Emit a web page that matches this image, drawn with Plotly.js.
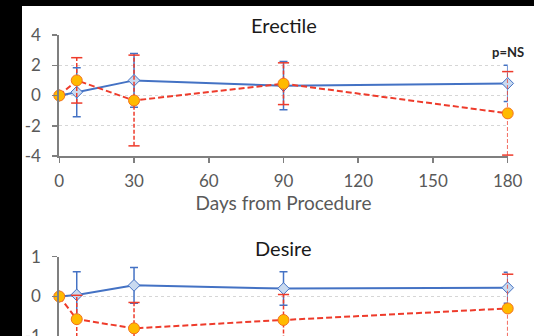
<!DOCTYPE html>
<html>
<head>
<meta charset="utf-8">
<script src="https://cdn.plot.ly/plotly-3.0.1.min.js"></script>
<style>
html,body{margin:0;padding:0;background:#000;overflow:hidden;width:534px;height:336px;}
#chart{position:absolute;left:22px;top:6px;width:512px;height:400px;background:#fff;}
</style>
</head>
<body>
<div id="chart"></div>
<script>
// ---- data ----
const days = [0, 7, 30, 90, 180];
const xTickVals = [0, 30, 60, 90, 120, 150, 180];
const xTickText = ['0', '30', '60', '90', '120', '150', '180'];

const erectileBlue = [0, 0.22, 1.0, 0.65, 0.8];
const erectileBlueErr = [0, 1.62, 1.78, 1.6, 1.2];
const erectileRed = [0, 1.0, -0.33, 0.78, -1.18];
const erectileRedErr = [0, 1.5, 3.0, 1.38, 2.76];

const desireBlue = [0, 0.04, 0.28, 0.2, 0.22];
const desireBlueErr = [0, 0.58, 0.45, 0.42, 0.39];
const desireRed = [0, -0.57, -0.8, -0.59, -0.3];
const desireRedErr = [0, 0.6, 0.65, 0.64, 0.86];

const erectileTickVals = [4, 2, 0, -2, -4];
const erectileTickText = ['4', '2', '0', '-2', '-4'];
const desireTickVals = [1, 0, -1];
const desireTickText = ['1', '0', '-1'];

// ---- styles ----
const BLUE = '#4472C4';
const BLUE_FILL = '#C9DAF0';
const RED = '#EE3B2B';
const ORANGE = '#FFBA00';
const ORANGE_EDGE = '#F4711E';
const FONT = 'Lato, "Open Sans", sans-serif';
const GREY = '#595959';

function redErrTrace(vals, errs, xa, ya) {
  const x = [], y = [];
  for (let i = 0; i < days.length; i++) {
    if (!errs[i]) continue;
    x.push(days[i], days[i], null);
    y.push(vals[i] - errs[i], vals[i] + errs[i], null);
  }
  return {
    x, y, xaxis: xa, yaxis: ya, type: 'scatter', mode: 'lines+markers',
    line: {color: RED, width: 1.5, dash: '4px,2px'},
    marker: {symbol: 'line-ew', size: 8, line: {color: RED, width: 1.5}},
    cliponaxis: false, hoverinfo: 'skip', showlegend: false
  };
}
function blueTrace(vals, errs, xa, ya) {
  return {
    x: days, y: vals, xaxis: xa, yaxis: ya, type: 'scatter', mode: 'lines+markers',
    line: {color: BLUE, width: 2},
    marker: {symbol: 'diamond', size: 9, color: BLUE_FILL, line: {color: BLUE, width: 1}},
    error_y: {type: 'data', array: errs, visible: true, color: BLUE, thickness: 1.5, width: 4},
    cliponaxis: false, showlegend: false
  };
}
function redTrace(vals, xa, ya) {
  return {
    x: days, y: vals, xaxis: xa, yaxis: ya, type: 'scatter', mode: 'lines+markers',
    line: {color: RED, width: 2, dash: '6px,3px'},
    marker: {symbol: 'circle', size: 11, color: ORANGE, line: {color: ORANGE_EDGE, width: 1}},
    cliponaxis: false, showlegend: false
  };
}

const data = [
  blueTrace(erectileBlue, erectileBlueErr, 'x', 'y'),
  redErrTrace(erectileRed, erectileRedErr, 'x', 'y'),
  redTrace(erectileRed, 'x', 'y'),
  blueTrace(desireBlue, desireBlueErr, 'x2', 'y2'),
  redErrTrace(desireRed, desireRedErr, 'x2', 'y2'),
  redTrace(desireRed, 'x2', 'y2')
];

const H = 400;
const L = 37.3, R = 485.7;
const xdom = [L / 512, R / 512];

function yaxisBase(top, bottom) {
  return {
    domain: [1 - bottom / H, 1 - top / H],
    showline: true, linecolor: '#7F7F7F', linewidth: 2,
    ticks: 'outside', ticklen: 5, tickcolor: '#7F7F7F', tickwidth: 1.5,
    showgrid: true, gridcolor: '#D6D6D6', griddash: 'dot', gridwidth: 1,
    zeroline: false,
    tickfont: {family: FONT, size: 17, color: GREY},
    ticklabelstandoff: 8,
    tickmode: 'array', fixedrange: true
  };
}

const layout = {
  width: 512, height: H,
  margin: {l: 0, r: 0, t: 0, b: 0},
  paper_bgcolor: '#fff', plot_bgcolor: '#fff',
  showlegend: false,
  xaxis: {
    domain: xdom, anchor: 'y', range: [0, 180], tickmode: 'array',
    tickvals: xTickVals, ticktext: xTickText,
    showline: true, linecolor: '#7F7F7F', linewidth: 2,
    ticks: 'outside', ticklen: 5, tickcolor: '#7F7F7F', tickwidth: 1.5,
    showgrid: false, zeroline: false,
    tickfont: {family: FONT, size: 17, color: GREY},
    ticklabelstandoff: 4,
    title: {text: 'Days from Procedure', font: {family: FONT, size: 19, color: GREY}, standoff: 0}
  },
  yaxis: Object.assign(yaxisBase(29, 150), {
    range: [-4, 4], tickvals: erectileTickVals, ticktext: erectileTickText
  }),
  xaxis2: {
    domain: xdom, anchor: 'y2', range: [0, 180], tickmode: 'array',
    tickvals: xTickVals, ticktext: xTickText, showticklabels: false,
    showline: true, linecolor: '#7F7F7F', linewidth: 2,
    ticks: 'outside', ticklen: 5, tickcolor: '#7F7F7F',
    showgrid: false, zeroline: false
  },
  yaxis2: Object.assign(yaxisBase(250.7, 370.1), {
    range: [-2, 1], tickvals: desireTickVals, ticktext: desireTickText
  }),
  annotations: [
    {text: 'Erectile', xref: 'x domain', yref: 'paper', x: 0.5, y: 1 - 19 / H,
     xanchor: 'center', yanchor: 'middle', showarrow: false,
     font: {family: FONT, size: 20, color: '#1a1a1a'}},
    {text: 'Desire', xref: 'x2 domain', yref: 'paper', x: 0.5, y: 1 - 242 / H,
     xanchor: 'center', yanchor: 'middle', showarrow: false,
     font: {family: FONT, size: 20, color: '#1a1a1a'}},
    {text: '<b>p=NS</b>', xref: 'x', yref: 'paper', x: 180, y: 1 - 46 / H,
     xanchor: 'center', yanchor: 'middle', showarrow: false,
     font: {family: FONT, size: 13, color: '#262626'}}
  ]
};

Plotly.newPlot('chart', data, layout, {displayModeBar: false, staticPlot: true});
</script>
</body>
</html>
